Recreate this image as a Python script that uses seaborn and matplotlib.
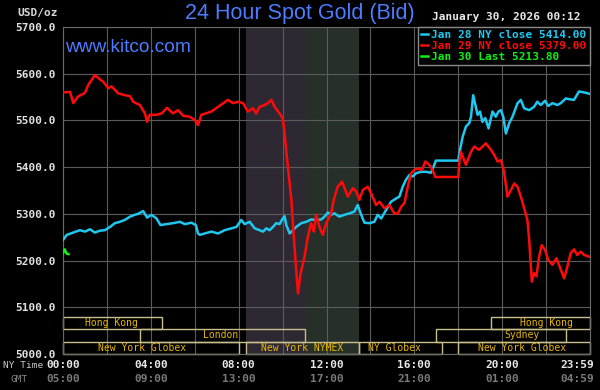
import matplotlib
matplotlib.use('Agg')
import matplotlib.pyplot as plt
import matplotlib.transforms as mtransforms
from matplotlib.patches import Rectangle
import pandas as pd
import seaborn as sns

# NY time in hours, price in USD/oz
jan28_hours = [0.0, 0.17, 0.47, 0.77, 1.0, 1.23, 1.45, 1.68, 1.91, 2.14, 2.36, 2.59, 2.82,
               3.05, 3.27, 3.42, 3.65, 3.83, 4.03, 4.26, 4.44, 4.71, 5.01, 5.32, 5.55, 5.85,
               6.05, 6.15, 6.23, 6.45, 6.76, 7.06, 7.36, 7.67, 7.9, 8.12, 8.27, 8.5, 8.73,
               8.95, 9.11, 9.26, 9.41, 9.56, 9.71, 9.86, 10.01, 10.09, 10.17, 10.32, 10.47,
               10.62, 10.85, 11.08, 11.3, 11.53, 11.76, 11.91, 12.06, 12.21, 12.36, 12.59,
               12.82, 13.05, 13.27, 13.42, 13.58, 13.73, 13.95, 14.18, 14.33, 14.49, 14.71,
               14.94, 15.17, 15.32, 15.47, 15.62, 15.77, 15.92, 16.08, 16.3, 16.53, 16.76,
               16.91, 16.98, 18.0, 18.05, 18.2, 18.35, 18.5, 18.58, 18.68, 18.8, 18.88,
               18.99, 19.1, 19.23, 19.38, 19.56, 19.71, 19.83, 19.94, 20.05, 20.17, 20.32,
               20.47, 20.7, 20.85, 21.0, 21.23, 21.45, 21.6, 21.76, 21.95, 22.1, 22.29,
               22.51, 22.67, 22.9, 23.12, 23.27, 23.5, 23.73, 23.98]
jan28_prices = [5244, 5255, 5260, 5265, 5262, 5267, 5260, 5264, 5265, 5272, 5280, 5283, 5287,
                5294, 5298, 5300, 5306, 5292, 5298, 5290, 5276, 5278, 5280, 5283, 5278, 5281,
                5276, 5258, 5255, 5258, 5262, 5258, 5265, 5269, 5272, 5287, 5278, 5283, 5269,
                5265, 5262, 5269, 5265, 5272, 5280, 5278, 5290, 5295, 5276, 5258, 5265,
                5272, 5280, 5283, 5288, 5287, 5288, 5294, 5303, 5298, 5301, 5294,
                5298, 5301, 5305, 5319, 5298, 5281, 5280, 5283, 5298, 5290, 5308,
                5326, 5333, 5337, 5358, 5373, 5383, 5380, 5387, 5390, 5390, 5388,
                5405, 5414, 5414, 5430, 5465, 5487, 5494, 5508, 5554, 5529, 5512,
                5519, 5497, 5505, 5483, 5519, 5508, 5519, 5522, 5508, 5472, 5494,
                5508, 5537, 5544, 5526, 5522, 5529, 5540, 5533, 5542, 5531, 5537,
                5533, 5537, 5547, 5545, 5544, 5562, 5560, 5557]

jan29_hours = [0.0, 0.32, 0.47, 0.68, 1.0, 1.15, 1.45, 1.68, 1.83, 2.06, 2.21, 2.51, 2.82,
               3.05, 3.2, 3.5, 3.73, 3.83, 3.95, 4.26, 4.49, 4.74, 5.01, 5.24, 5.47, 5.77,
               6.0, 6.15, 6.3, 6.76, 7.06, 7.51, 7.74, 7.97, 8.2, 8.42, 8.65, 8.8, 8.95,
               9.18, 9.33, 9.49, 9.64, 9.86, 10.01, 10.09, 10.24, 10.4, 10.51, 10.62, 10.7,
               10.82, 11.0, 11.15, 11.3, 11.42, 11.53, 11.68, 11.83, 11.99, 12.21, 12.33,
               12.51, 12.71, 12.97, 13.2, 13.35, 13.5, 13.65, 13.88, 14.03, 14.26, 14.41,
               14.64, 14.86, 15.09, 15.24, 15.4, 15.55, 15.7, 15.85, 16.0, 16.15, 16.35,
               16.5, 16.68, 16.83, 16.95, 18.0, 18.05, 18.12, 18.35, 18.58, 18.73, 18.95,
               19.26, 19.49, 19.64, 19.79, 19.94, 20.09, 20.24, 20.4, 20.55, 20.7, 20.85,
               21.0, 21.15, 21.23, 21.35, 21.45, 21.56, 21.68, 21.8, 21.95, 22.1, 22.29,
               22.47, 22.62, 22.82, 22.97, 23.12, 23.27, 23.42, 23.58, 23.73, 23.98]
jan29_prices = [5560, 5561, 5537, 5551, 5559, 5576, 5597, 5588, 5583, 5569, 5573, 5558, 5554,
                5552, 5540, 5533, 5515, 5497, 5512, 5512, 5515, 5527, 5515, 5522, 5510, 5508,
                5501, 5490, 5512, 5519, 5529, 5544, 5537, 5540, 5537, 5519, 5526, 5515, 5529,
                5533, 5537, 5544, 5529, 5515, 5504, 5472, 5401, 5330, 5251, 5180, 5130,
                5173, 5208, 5251, 5280, 5262, 5298, 5272, 5255, 5280, 5301, 5330,
                5358, 5369, 5337, 5355, 5348, 5330, 5351, 5358, 5344, 5319, 5326,
                5312, 5319, 5301, 5300, 5315, 5323, 5358, 5387, 5394, 5397, 5394,
                5412, 5405, 5394, 5379, 5379, 5410, 5433, 5405, 5433, 5444, 5437,
                5451, 5437, 5426, 5412, 5415, 5390, 5337, 5351, 5365, 5358, 5337,
                5312, 5287, 5244, 5155, 5173, 5166, 5208, 5233, 5223, 5201, 5191,
                5205, 5187, 5162, 5187, 5216, 5224, 5212, 5219, 5212, 5208]

jan30_hours = [0.0, 0.08, 0.16, 0.25]
jan30_prices = [5216, 5224, 5215, 5213.8]

series_labels = ['Jan 28 NY close 5414.00', 'Jan 29 NY close 5379.00', 'Jan 30 Last 5213.80']
series_colors = ['#1ec8f0', '#ff0a0a', '#10f010']

ny_tick_hours = [0, 4, 8, 12, 16, 20, 23.98]
ny_tick_labels = ['00:00', '04:00', '08:00', '12:00', '16:00', '20:00', '23:59']
gmt_tick_labels = ['05:00', '09:00', '13:00', '17:00', '21:00', '01:00', '04:59']

session_names = ['Hong Kong', 'London', 'New York Globex', 'New York NYMEX',
                 'NY Globex', 'New York Globex', 'Sydney', 'Hong Kong']
session_start = [0, 3.5, 0, 8.33, 13.5, 18.0, 17.0, 19.5]
session_end = [4.5, 11.0, 8.0, 13.5, 17.25, 24, 22.9, 24]
session_row = [2, 1, 0, 0, 0, 0, 1, 2]
session_label_at = [2.2, 7.2, 3.6, 10.9, 15.1, 20.9, 20.9, 22.0]

W, H = 600, 390
fig = plt.figure(figsize=(6, 3.9), dpi=100, facecolor='black')
ax = fig.add_axes([63 / W, 1 - 354 / H, 527 / W, 327 / H])
ax.set_facecolor('black')

mono = 'DejaVu Sans Mono'

# trading hours shading
ax.axvspan(8.33, 11.0, color='#2e2832', zorder=0.2, lw=0)
ax.axvspan(11.0, 13.5, color='#272f29', zorder=0.2, lw=0)

frames = [
    pd.DataFrame({'hour': jan28_hours, 'price': jan28_prices}),
    pd.DataFrame({'hour': jan29_hours, 'price': jan29_prices}),
    pd.DataFrame({'hour': jan30_hours, 'price': jan30_prices}),
]
for df, lab, col in zip(frames, series_labels, series_colors):
    sns.lineplot(data=df, x='hour', y='price', color=col, lw=1.8, label=lab,
                 ax=ax, zorder=3)

# session boxes
row_h = 26.5
for name, s, e, r, lx in zip(session_names, session_start, session_end,
                             session_row, session_label_at):
    ax.add_patch(Rectangle((s, 5000 + r * row_h), e - s, row_h, fill=False,
                           edgecolor='#c8c08c', lw=1, zorder=2, clip_on=False))
    ax.text(lx, 5000 + (r + 0.5) * row_h, name, ha='center', va='center',
            color='#e8b800', fontsize=7, family=mono, zorder=3)

ax.set_xlim(0, 24)
ax.set_ylim(5000, 5700)
ax.set_xticks(range(0, 25, 2))
ax.set_xticklabels([])
ax.set_yticks(range(5000, 5701, 100))
ax.set_yticklabels([f'{v:.1f}' for v in range(5000, 5701, 100)])
ax.tick_params(length=0, pad=5, colors='#e0e0e0')
for lbl in ax.get_yticklabels():
    lbl.set_fontfamily(mono)
    lbl.set_fontweight('bold')
    lbl.set_fontsize(8)
ax.set_xlabel('')
ax.set_ylabel('')
ax.grid(True, color='#5c5c5c', lw=0.8)
ax.set_axisbelow(True)
for sp in ax.spines.values():
    sp.set_color('#6a6a6a')
    sp.set_linewidth(0.8)

leg = ax.legend(loc='upper right', bbox_to_anchor=(1, 1), borderaxespad=0,
                frameon=True, fancybox=False, facecolor='black', edgecolor='#8a8a8a',
                framealpha=1, prop=dict(family=mono, weight='bold', size=8),
                labelcolor='linecolor', handlelength=0.55, handletextpad=0.35,
                borderpad=0.3, labelspacing=0.08)
leg.set_zorder(5)

trans = mtransforms.blended_transform_factory(ax.transData, fig.transFigure)
for i, (hx, ny, gmt) in enumerate(zip(ny_tick_hours, ny_tick_labels, gmt_tick_labels)):
    ha = 'right' if i == len(ny_tick_hours) - 1 else 'center'
    off = mtransforms.ScaledTranslation(5 / 100 if ha == 'right' else 0, 0,
                                        fig.dpi_scale_trans)
    ax.text(hx, 1 - 365 / H, ny, transform=trans + off, ha=ha, va='center',
            color='#e8e8e8', fontsize=8, family=mono, weight='bold')
    ax.text(hx, 1 - 379 / H, gmt, transform=trans + off, ha=ha, va='center',
            color='#7a7a7a', fontsize=8, family=mono, weight='bold')

fig.text(300 / W, 1 - 14 / H, '24 Hour Spot Gold (Bid)', ha='center', va='center',
         color='#4c7cff', fontsize=15.5, family='Liberation Sans')
fig.text(65 / W, 1 - 47 / H, 'www.kitco.com', ha='left', va='center',
         color='#4c7cff', fontsize=13.8, family='Liberation Sans', zorder=4)
fig.text(58 / W, 1 - 13 / H, 'USD/oz', ha='right', va='center',
         color='#d8d8d8', fontsize=8, family=mono, weight='bold')
fig.text(580 / W, 1 - 17 / H, 'January 30, 2026 00:12', ha='right', va='center',
         color='#e8e8e8', fontsize=8, family=mono, weight='bold')
fig.text(3 / W, 1 - 366 / H, 'NY Time', ha='left', va='center',
         color='#c8c8c8', fontsize=6.8, family=mono)
fig.text(28 / W, 1 - 379 / H, 'GMT', ha='right', va='center',
         color='#8a8a8a', fontsize=6.8, family=mono)

fig.savefig('out.png', dpi=100, facecolor='black')
